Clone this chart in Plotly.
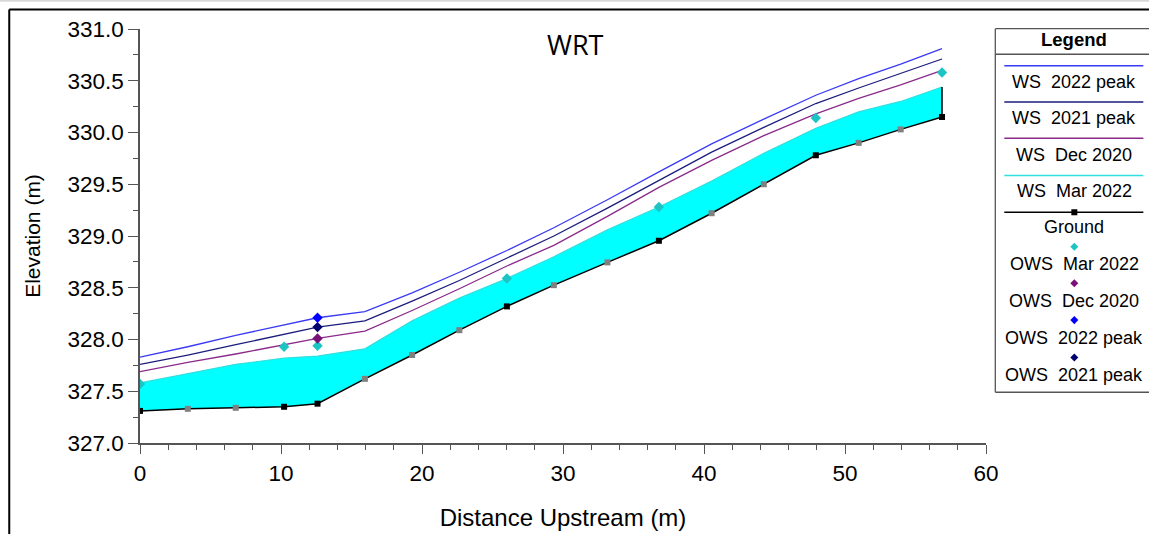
import plotly.graph_objects as go

# ---------------- data ----------------
stations = [0, 3.39, 6.79, 10.22, 12.59, 15.95, 19.3, 22.65, 26.02, 29.35,
            33.15, 36.8, 40.54, 44.24, 47.93, 50.97, 53.95, 56.88]
ground = [327.31, 327.33, 327.34, 327.35, 327.38, 327.62, 327.85, 328.09, 328.32,
          328.525, 328.745, 328.954, 329.22, 329.50, 329.78, 329.90, 330.03, 330.15]
ground_measured = [True, False, False, True, True, False, False, False, True, False,
                   False, True, False, False, True, False, False, True]
ws_2022_peak = [327.83, 327.93, 328.04, 328.14, 328.21, 328.27, 328.45, 328.65, 328.86,
                329.08, 329.35, 329.62, 329.89, 330.13, 330.36, 330.52, 330.66, 330.81]
ws_2021_peak = [327.76, 327.85, 327.95, 328.05, 328.12, 328.18, 328.37, 328.57, 328.79,
                329.00, 329.27, 329.54, 329.81, 330.05, 330.28, 330.43, 330.57, 330.71]
ws_dec_2020 = [327.69, 327.78, 327.86, 327.95, 328.01, 328.08, 328.28, 328.49, 328.71,
               328.91, 329.19, 329.47, 329.73, 329.97, 330.18, 330.33, 330.46, 330.60]
ws_mar_2022 = [327.58, 327.67, 327.76, 327.82, 327.84, 327.91, 328.18, 328.40, 328.59,
               328.80, 329.06, 329.28, 329.53, 329.80, 330.04, 330.20, 330.30, 330.44]

ows_mar_2022_x = [0, 10.22, 12.59, 26.02, 36.8, 47.93, 56.88]
ows_mar_2022_y = [327.57, 327.93, 327.94, 328.59, 329.28, 330.14, 330.58]
ows_dec_2020_x = [12.59]
ows_dec_2020_y = [328.01]
ows_2022_peak_x = [12.59]
ows_2022_peak_y = [328.21]
ows_2021_peak_x = [12.59]
ows_2021_peak_y = [328.12]

legend_labels = ["WS\u00a0\u00a02022 peak", "WS\u00a0\u00a02021 peak", "WS\u00a0\u00a0Dec 2020",
                 "WS\u00a0\u00a0Mar 2022", "Ground", "OWS\u00a0\u00a0Mar 2022",
                 "OWS\u00a0\u00a0Dec 2020", "OWS\u00a0\u00a02022 peak", "OWS\u00a0\u00a02021 peak"]

# ---------------- style ----------------
C_2022 = "#3a3af5"
C_2021 = "#1c1c7c"
C_DEC = "#8a2a8a"
C_MAR_LINE = "#33dede"
C_FILL = "#00ffff"
C_OWS_MAR = "#1cc4c4"
C_OWS_DEC = "#7a107a"
C_OWS_2022 = "#0000ff"
C_OWS_2021 = "#00006e"

W, H = 1149, 534
L, R, T, B = 140, 985.7, 29.3, 442.7
FONT = "Arial, Liberation Sans, sans-serif"

fig = go.Figure()

# fill between ground and Mar 2022 WS
fig.add_trace(go.Scatter(x=stations, y=ground, mode="lines",
                         line=dict(width=0, color="black"), hoverinfo="skip", showlegend=False))
fig.add_trace(go.Scatter(x=stations, y=ws_mar_2022, mode="lines", fill="tonexty",
                         fillcolor=C_FILL, line=dict(color=C_MAR_LINE, width=1.2),
                         name="WS Mar 2022", showlegend=False))
# right end edge of the filled section
fig.add_trace(go.Scatter(x=[stations[-1], stations[-1]], y=[ground[-1], ws_mar_2022[-1]],
                         mode="lines", line=dict(color="black", width=1.5),
                         hoverinfo="skip", showlegend=False))

fig.add_trace(go.Scatter(x=stations, y=ws_dec_2020, mode="lines",
                         line=dict(color=C_DEC, width=1.3), name="WS Dec 2020", showlegend=False))
fig.add_trace(go.Scatter(x=stations, y=ws_2021_peak, mode="lines",
                         line=dict(color=C_2021, width=1.3), name="WS 2021 peak", showlegend=False))
fig.add_trace(go.Scatter(x=stations, y=ws_2022_peak, mode="lines",
                         line=dict(color=C_2022, width=1.3), name="WS 2022 peak", showlegend=False))

fig.add_trace(go.Scatter(x=stations, y=ground, mode="lines+markers",
                         line=dict(color="black", width=1.5),
                         marker=dict(symbol="square", size=6,
                                     color=["#000000" if m else "#808080" for m in ground_measured]),
                         name="Ground", showlegend=False))

for xs, ys, col, nm in [(ows_mar_2022_x, ows_mar_2022_y, C_OWS_MAR, "OWS Mar 2022"),
                        (ows_dec_2020_x, ows_dec_2020_y, C_OWS_DEC, "OWS Dec 2020"),
                        (ows_2022_peak_x, ows_2022_peak_y, C_OWS_2022, "OWS 2022 peak"),
                        (ows_2021_peak_x, ows_2021_peak_y, C_OWS_2021, "OWS 2021 peak")]:
    fig.add_trace(go.Scatter(x=xs, y=ys, mode="markers",
                             marker=dict(symbol="diamond", size=8, color=col),
                             name=nm, showlegend=False))


def px(xp):
    return (xp - L) / (R - L)


def py(yp):
    return (B - yp) / (B - T)


shapes = []
annotations = []

# outer frame (top and left)
shapes.append(dict(type="line", xref="paper", yref="paper", x0=px(0), x1=px(W + 5),
                   y0=py(1), y1=py(1), line=dict(color="#d8d8d8", width=2)))
shapes.append(dict(type="line", xref="paper", yref="paper", x0=px(9.3), x1=px(W + 5),
                   y0=py(9.8), y1=py(9.8), line=dict(color="black", width=2)))
shapes.append(dict(type="line", xref="paper", yref="paper", x0=px(9.3), x1=px(9.3),
                   y0=py(9.8), y1=py(H + 5), line=dict(color="black", width=2)))

# legend box
BOX_L, BOX_T, BOX_B, BOX_R = 995, 29, 392, W + 5
for (x0, y0, x1, y1) in [(BOX_L, BOX_T, BOX_R, BOX_T), (BOX_L, BOX_B, BOX_R, BOX_B),
                         (BOX_L, BOX_T, BOX_L, BOX_B), (BOX_L, 54.5, BOX_R, 54.5)]:
    shapes.append(dict(type="line", xref="paper", yref="paper", x0=px(x0), x1=px(x1),
                       y0=py(y0), y1=py(y1), line=dict(color="#555555", width=1.3)))
annotations.append(dict(text="<b>Legend</b>", x=px(1074), y=py(40), xref="paper", yref="paper",
                        showarrow=False, xanchor="center", yanchor="middle",
                        font=dict(family=FONT, size=18.5, color="black")))

CX = 1074
SL, SR = 1004, 1143
line_items = [(66, C_2022), (102.3, C_2021), (138.3, C_DEC), (175.7, C_MAR_LINE), (212.3, "black")]
for (yy, col) in line_items:
    shapes.append(dict(type="line", xref="paper", yref="paper", x0=px(SL), x1=px(SR),
                       y0=py(yy), y1=py(yy), line=dict(color=col, width=1.5)))
# ground marker in legend
shapes.append(dict(type="rect", xref="paper", yref="paper", x0=px(CX - 3), x1=px(CX + 3),
                   y0=py(212.3 - 3), y1=py(212.3 + 3), fillcolor="black", line=dict(width=0)))
# diamonds
for (yy, col) in [(246.7, C_OWS_MAR), (283.3, C_OWS_DEC), (320, C_OWS_2022), (357.3, C_OWS_2021)]:
    d = 4
    path = "M {} {} L {} {} L {} {} L {} {} Z".format(
        px(CX), py(yy - d), px(CX + d), py(yy), px(CX), py(yy + d), px(CX - d), py(yy))
    shapes.append(dict(type="path", xref="paper", yref="paper", path=path,
                       fillcolor=col, line=dict(width=0)))

text_y = [82.3, 118.3, 155, 190.7, 227.3, 264, 301, 337.7, 374.3]
for lbl, yy in zip(legend_labels, text_y):
    annotations.append(dict(text=lbl, x=px(CX), y=py(yy), xref="paper", yref="paper",
                            showarrow=False, xanchor="center", yanchor="middle",
                            font=dict(family=FONT, size=18, color="black")))

# chart title
annotations.append(dict(text="WRT", x=px(575), y=py(45), xref="paper", yref="paper",
                        showarrow=False, xanchor="center", yanchor="middle",
                        font=dict(family="Open Sans, sans-serif", size=27, color="black")))

fig.update_layout(
    width=W, height=H,
    margin=dict(l=L, r=W - R, t=T, b=H - B, pad=0),
    paper_bgcolor="white", plot_bgcolor="white",
    showlegend=False,
    shapes=shapes, annotations=annotations,
    font=dict(family=FONT, color="black"),
    xaxis=dict(range=[0, 60], tickmode="linear", tick0=0, dtick=10, automargin=False,
               ticks="outside", ticklen=9, tickwidth=1.3, tickcolor="#555555",
               minor=dict(ticks="outside", ticklen=5, dtick=2, tickcolor="#555555", tickwidth=1.3),
               showline=True, linecolor="#555555", linewidth=1.5,
               showgrid=False, zeroline=False,
               tickfont=dict(family=FONT, size=22.5, color="black"),
               title=dict(text="Distance Upstream (m)", standoff=24,
                          font=dict(family=FONT, size=24, color="black"))),
    yaxis=dict(range=[327, 331], tickmode="linear", tick0=327, dtick=0.5, tickformat=".1f",
               automargin=False,
               ticks="outside", ticklen=10, tickwidth=1.3, tickcolor="#555555",
               minor=dict(ticks="outside", ticklen=5, dtick=0.25, tickcolor="#555555", tickwidth=1.3),
               showline=True, linecolor="#555555", linewidth=1.5,
               showgrid=False, zeroline=False,
               tickfont=dict(family=FONT, size=22.5, color="black"),
               title=dict(text="Elevation (m)", standoff=21,
                          font=dict(family=FONT, size=21, color="black"))),
)

fig.write_html("out.html")
